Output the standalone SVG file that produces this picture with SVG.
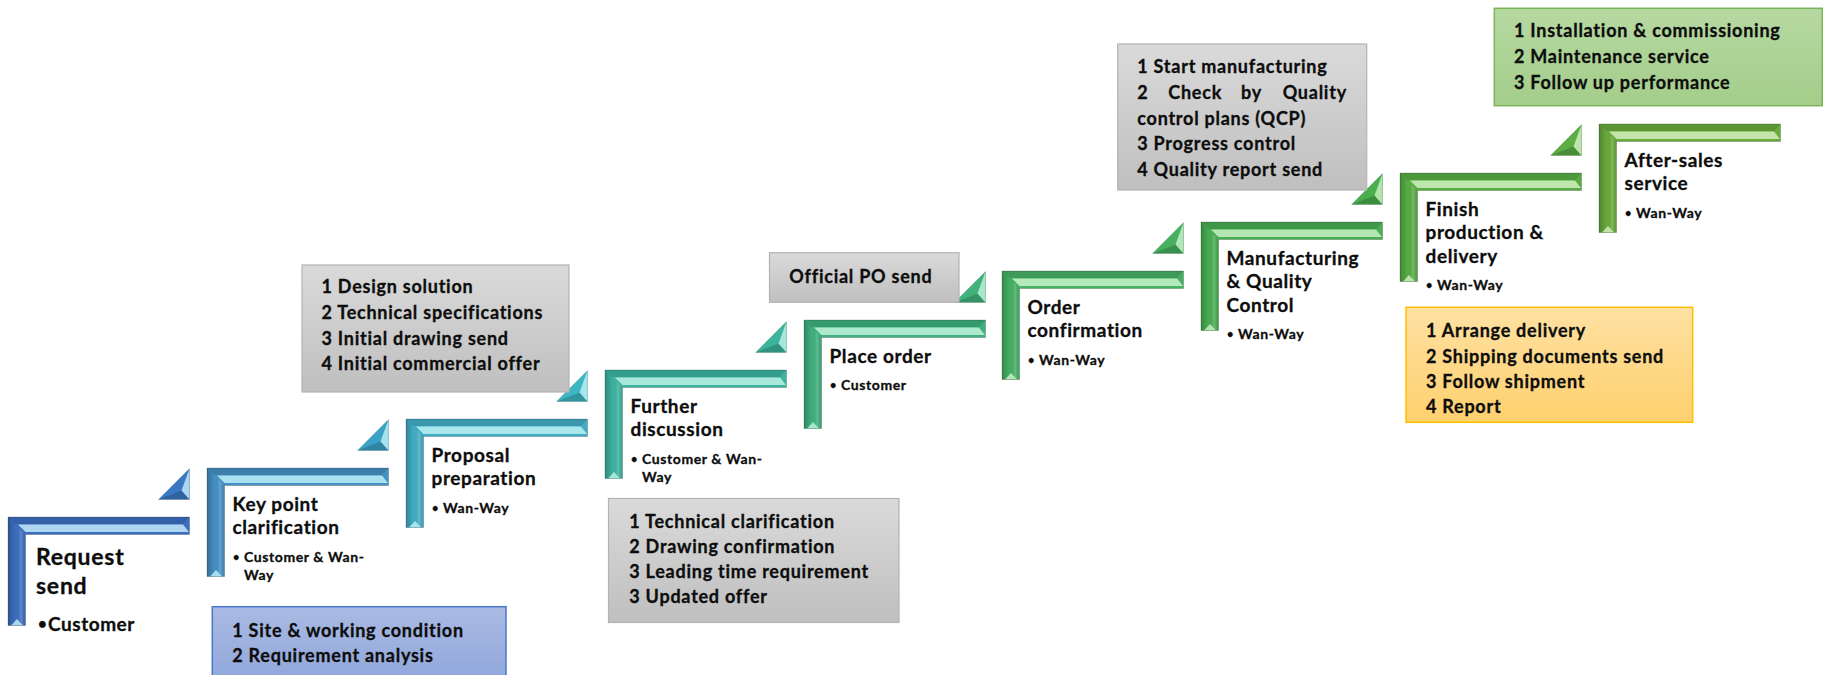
<svg xmlns="http://www.w3.org/2000/svg" xmlns:xlink="http://www.w3.org/1999/xlink" width="1823" height="675" viewBox="0 0 1823 675">
<style>
text{font-family:Lato,"Open Sans","Liberation Sans",sans-serif;font-weight:700;fill:#0d0d0d;stroke:#0d0d0d;stroke-width:0.3}
.t{font-size:19px;letter-spacing:0.6px}
.t1{font-size:23px;letter-spacing:0.75px}
.b{font-size:14px;letter-spacing:0.6px}
.b1{font-size:19px;letter-spacing:0.55px}
.dot{font-size:11px}
.dot1{font-size:15px}
.bx{font-size:18px;letter-spacing:0.75px}
.gray{fill:url(#gGray);stroke:#b3b3b3;stroke-width:1.2}
.green{fill:url(#gGreen);stroke:#7cb558;stroke-width:1.5}
.orange{fill:url(#gOrange);stroke:#ffc000;stroke-width:1.5}
.blue{fill:url(#gBlue);stroke:#4a78c8;stroke-width:1.5}
.hl{fill:var(--hl,#fff)}
</style>
<defs>
<linearGradient id="gGray" x1="0" y1="0" x2="0" y2="1"><stop offset="0" stop-color="#dadada"/><stop offset="1" stop-color="#bfbfbf"/></linearGradient>
<linearGradient id="gGreen" x1="0" y1="0" x2="0" y2="1"><stop offset="0" stop-color="#b6d9a2"/><stop offset="1" stop-color="#a4cd8a"/></linearGradient>
<linearGradient id="gOrange" x1="0" y1="0" x2="0" y2="1"><stop offset="0" stop-color="#fee1a2"/><stop offset="1" stop-color="#ffd06e"/></linearGradient>
<linearGradient id="gBlue" x1="0" y1="0" x2="0" y2="1"><stop offset="0" stop-color="#aabae3"/><stop offset="1" stop-color="#8fa6db"/></linearGradient>
<linearGradient id="gLeft" x1="0" y1="0" x2="1" y2="0"><stop offset="0" stop-color="#000" stop-opacity="0.22"/><stop offset="0.45" stop-color="#000" stop-opacity="0"/><stop offset="0.75" stop-color="#fff" stop-opacity="0.18"/><stop offset="1" stop-color="#000" stop-opacity="0.08"/></linearGradient>
<g id="bracket">
<path d="M0,0H181.5V17.5H17.5V108.5H0Z" fill="currentColor"/>
<path d="M0,0H181.5L175,7H7Z" fill="#000" fill-opacity="0.12"/>
<path class="hl" d="M10,7.5H175L181,15H17.5Z" fill-opacity="0.88"/>
<path d="M0,0L17.5,17.5V108.5H0Z" fill="url(#gLeft)"/>
<path class="hl" d="M3,108.5H15L9,102Z" fill-opacity="0.85"/>
<path d="M0,0H181.5V17.5H17.5V108.5H0Z" fill="none" stroke="#000" stroke-opacity="0.25" stroke-width="0.8"/>
</g>
<g id="tri">
<path d="M0,31L31,0V31Z" fill="currentColor"/>
<path d="M0,31L23,22L31,31Z" fill="#000" fill-opacity="0.18"/>
<path class="hl" d="M31,0L23,22L31,31Z" fill-opacity="0.85"/>
<path d="M0,31L31,0V31Z" fill="none" stroke="#000" stroke-opacity="0.2" stroke-width="0.6"/>
</g>
</defs>

<g id="arrows">
<use href="#tri" x="158.5" y="468.5" style="color:#3a78c4;--hl:#bfe6f8"/>
<use href="#tri" x="357.5" y="419.5" style="color:#3aa2c6;--hl:#b8ecf6"/>
<use href="#tri" x="556.5" y="370.5" style="color:#3cb6c2;--hl:#b8f0f4"/>
<use href="#tri" x="755.5" y="321.5" style="color:#3cb49c;--hl:#b8f0e4"/>
<use href="#tri" x="954.5" y="271.5" style="color:#40b27a;--hl:#bcf0d8"/>
<use href="#tri" x="1152.5" y="222.5" style="color:#46b060;--hl:#c4f0c8"/>
<use href="#tri" x="1351.5" y="173.5" style="color:#4aae4e;--hl:#c4eec0"/>
<use href="#tri" x="1550.5" y="124.5" style="color:#5aae44;--hl:#cdeebc"/>
</g>

<g id="step1">
<use href="#bracket" x="8" y="517" style="color:#3c6ec0;--hl:#bfe6f8"/>
<text class="t1" x="36" y="565">Request</text>
<text class="t1" x="36" y="594">send</text>
<text class="dot1" x="38" y="629">•</text>
<text class="b1" x="48" y="630.5">Customer</text>
</g>

<g id="step2">
<use href="#bracket" x="207" y="468" style="color:#4590c4;--hl:#b8ecf6"/>
<text class="t" x="232.5" y="510.5">Key point</text>
<text class="t" x="232.5" y="534">clarification</text>
<text class="dot" x="233" y="560.5">•</text>
<text class="b" x="244" y="561.5">Customer &amp; Wan-</text>
<text class="b" x="244" y="580">Way</text>
</g>

<g id="step3">
<use href="#bracket" x="406" y="419" style="color:#42acc4;--hl:#b8f0f4"/>
<text class="t" x="431.5" y="461.5">Proposal</text>
<text class="t" x="431.5" y="485">preparation</text>
<text class="dot" x="432" y="511.5">•</text>
<text class="b" x="443" y="512.5">Wan-Way</text>
</g>

<g id="step4">
<use href="#bracket" x="605" y="370" style="color:#3db3a0;--hl:#b8f0e4"/>
<text class="t" x="630.5" y="412.5">Further</text>
<text class="t" x="630.5" y="436">discussion</text>
<text class="dot" x="631" y="462.5">•</text>
<text class="b" x="642" y="463.5">Customer &amp; Wan-</text>
<text class="b" x="642" y="482">Way</text>
</g>

<g id="step5">
<use href="#bracket" x="804" y="320" style="color:#3eb07e;--hl:#bcf0d8"/>
<text class="t" x="829.5" y="362.5">Place order</text>
<text class="dot" x="830" y="389">•</text>
<text class="b" x="841" y="390">Customer</text>
</g>

<g id="step6">
<use href="#bracket" x="1002" y="271" style="color:#46b064;--hl:#c4f0c8"/>
<text class="t" x="1027.5" y="313.5">Order</text>
<text class="t" x="1027.5" y="337">confirmation</text>
<text class="dot" x="1028" y="363.5">•</text>
<text class="b" x="1039" y="364.5">Wan-Way</text>
</g>

<g id="step7">
<use href="#bracket" x="1201" y="222" style="color:#48ae52;--hl:#c4eec0"/>
<text class="t" x="1226.5" y="264.5">Manufacturing</text>
<text class="t" x="1226.5" y="288">&amp; Quality</text>
<text class="t" x="1226.5" y="311.5">Control</text>
<text class="dot" x="1227" y="338">•</text>
<text class="b" x="1238" y="339">Wan-Way</text>
</g>

<g id="step8">
<use href="#bracket" x="1400" y="173" style="color:#57ad44;--hl:#cdeebc"/>
<text class="t" x="1425.5" y="215.5">Finish</text>
<text class="t" x="1425.5" y="239">production &amp;</text>
<text class="t" x="1425.5" y="262.5">delivery</text>
<text class="dot" x="1426" y="289">•</text>
<text class="b" x="1437" y="290">Wan-Way</text>
</g>

<g id="step9">
<use href="#bracket" x="1599" y="124" style="color:#68aa3c;--hl:#d2ecb8"/>
<text class="t" x="1624.5" y="166.5">After-sales</text>
<text class="t" x="1624.5" y="190">service</text>
<text class="dot" x="1625" y="216.5">•</text>
<text class="b" x="1636" y="217.5">Wan-Way</text>
</g>

<g id="note-design">
<rect class="gray" x="302" y="265" width="267" height="127"/>
<text class="bx" x="321.5" y="293.3">1 Design solution</text>
<text class="bx" x="321.5" y="319">2 Technical specifications</text>
<text class="bx" x="321.5" y="344.7">3 Initial drawing send</text>
<text class="bx" x="321.5" y="370.3">4 Initial commercial offer</text>
</g>

<g id="note-technical">
<rect class="gray" x="608.5" y="498.5" width="290.5" height="124"/>
<text class="bx" x="629.3" y="528.3">1 Technical clarification</text>
<text class="bx" x="629.3" y="553.3">2 Drawing confirmation</text>
<text class="bx" x="629.3" y="578.3">3 Leading time requirement</text>
<text class="bx" x="629.3" y="603.3">3 Updated offer</text>
</g>

<g id="note-po">
<rect class="gray" x="769.5" y="252.7" width="189.5" height="49.6"/>
<text class="bx" x="789.3" y="282.7">Official PO send</text>
</g>

<g id="note-manufacturing">
<rect class="gray" x="1117.7" y="44" width="249" height="146"/>
<text class="bx" x="1137.3" y="73.3">1 Start manufacturing</text>
<text class="bx" y="99.3"><tspan x="1137.3">2</tspan><tspan x="1168.3">Check</tspan><tspan x="1241">by</tspan><tspan x="1282.7">Quality</tspan></text>
<text class="bx" x="1137.3" y="124.5">control plans (QCP)</text>
<text class="bx" x="1137.3" y="150">3 Progress control</text>
<text class="bx" x="1137.3" y="175.7">4 Quality report send</text>
</g>

<g id="note-aftersales">
<rect class="green" x="1494.3" y="8.3" width="328" height="97.4"/>
<text class="bx" x="1514" y="37.3">1 Installation &amp; commissioning</text>
<text class="bx" x="1514" y="63.3">2 Maintenance service</text>
<text class="bx" x="1514" y="88.7">3 Follow up performance</text>
</g>

<g id="note-delivery">
<rect class="orange" x="1406" y="307.3" width="286.7" height="115"/>
<text class="bx" x="1426" y="336.7">1 Arrange delivery</text>
<text class="bx" x="1426" y="362.7">2 Shipping documents send</text>
<text class="bx" x="1426" y="387.7">3 Follow shipment</text>
<text class="bx" x="1426" y="413.3">4 Report</text>
</g>

<g id="note-keypoint">
<rect class="blue" x="212.3" y="606.7" width="293.7" height="80"/>
<text class="bx" x="232.3" y="637">1 Site &amp; working condition</text>
<text class="bx" x="232.3" y="662">2 Requirement analysis</text>
</g>
</svg>
